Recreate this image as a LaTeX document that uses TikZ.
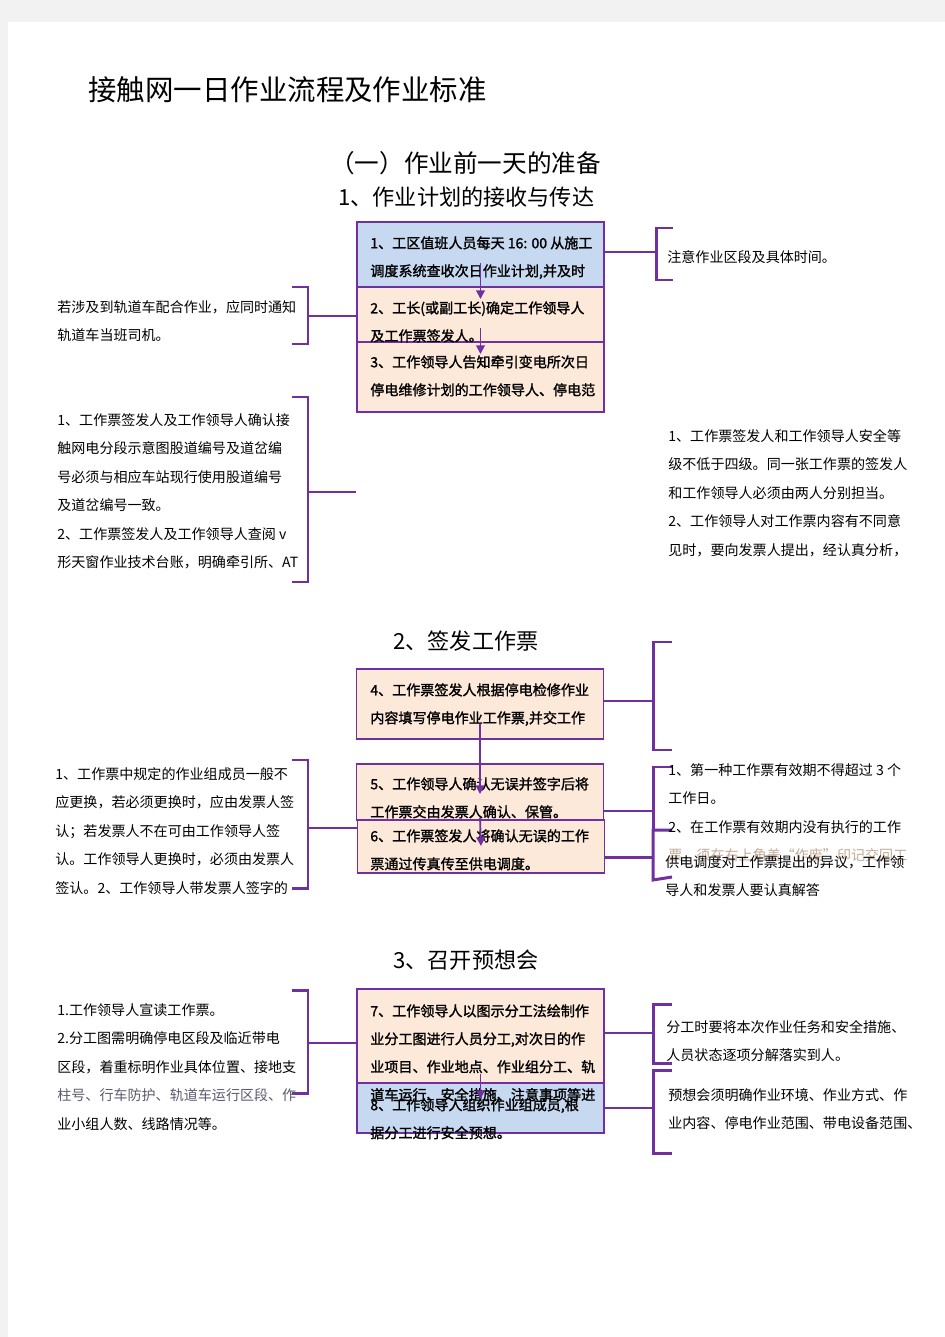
\documentclass[tikz,border=0pt]{standalone}
\usepackage{fontspec}
\setmainfont{Noto Sans CJK SC}
\newfontfamily\boxfont[AutoFakeBold=1.5]{Noto Sans CJK SC}
\usepackage{tikz}
\usetikzlibrary{arrows.meta, positioning, calc}
\usepackage{xcolor}
\definecolor{flowpurple}{RGB}{112, 48, 160}
\definecolor{stepblue}{RGB}{198, 217, 241}
\definecolor{steppeach}{RGB}{253, 233, 217}
\definecolor{pagegrey}{RGB}{242, 242, 242}
\definecolor{fadetext}{RGB}{196, 170, 150}
\definecolor{dimtext}{RGB}{90, 90, 110}
\tikzset{
    stepbox/.style={rectangle, draw=flowpurple, line width=1.1pt, minimum width=4.94cm, inner sep=0pt},
    bluestep/.style={stepbox, fill=stepblue},
    peachstep/.style={stepbox, fill=steppeach},
    steptext/.style={anchor=north west, inner sep=0pt, align=left, font=\boxfont\bfseries\fontsize{8pt}{15.9pt}\selectfont},
    note/.style={anchor=north west, inner sep=0pt, align=left, font=\fontsize{8pt}{16.2pt}\selectfont},
    heading/.style={anchor=west, inner sep=0pt, font=\fontsize{12.6pt}{14pt}\selectfont},
    link/.style={flowpurple, line width=1.2pt},
    bracket/.style={flowpurple, line width=1.7pt},
    arrow/.style={flowpurple, line width=1pt, -{Triangle[length=5pt, width=5pt]}}
}

\begin{document}
\begin{tikzpicture}[x=0.02cm, y=-0.02cm]
    % Page
    \fill[pagegrey] (0,0) rectangle (945,1337);
    \fill[white] (8,22) rectangle (945,1337);
    \useasboundingbox (0,0) rectangle (945,1337);

    % Titles
    \node[anchor=west, inner sep=0pt, font=\fontsize{16.2pt}{18pt}\selectfont] (title) at (88,90) {接触网一日作业流程及作业标准};
    \node[heading, font=\fontsize{14pt}{16pt}\selectfont] (part1) at (330,163) {（一）作业前一天的准备};
    \node[heading] (sec1) at (338,197) {1、作业计划的接收与传达};
    \node[heading] (sec2) at (393,641) {2、签发工作票};
    \node[heading] (sec3) at (393,960) {3、召开预想会};

    % Step boxes
    \node[bluestep, minimum height=1.30cm] (b1) at (480.5,254.5) {};
    \node[peachstep, minimum height=1.10cm] (b2) at (480.5,314.5) {};
    \node[peachstep, minimum height=1.40cm] (b3) at (480.5,377) {};
    \node[peachstep, minimum height=1.40cm] (b4) at (480,704) {};
    \node[peachstep, minimum height=1.12cm] (b5) at (480,792) {};
    \node[peachstep, minimum height=1.06cm] (b6) at (481,846.5) {};
    \node[bluestep, minimum height=1.00cm] (b8) at (480.5,1108) {};
    \node[peachstep, minimum height=1.88cm] (b7) at (480.5,1036) {};

    % Brackets, section 1
    \coordinate (r1) at (656,252);
    \draw[link] (b1.east |- r1) -- (r1);
    \draw[bracket] (673,228) -- (656,228) -- (656,280) -- (673,280);
    \coordinate (l1) at (308,316);
    \draw[link] (b2.west |- l1) -- (l1);
    \draw[bracket] (292,287) -- (308,287) -- (308,344) -- (292,344);
    \coordinate (l2) at (308,492);
    \draw[link] (l2) -- (l2 -| b3.west);
    \draw[bracket] (292,397) -- (308,397) -- (308,582) -- (292,582);

    % Brackets, section 2
    \coordinate (r2) at (653,701);
    \draw[link] (b4.east |- r2) -- (r2);
    \draw[bracket] (672,642) -- (653,642) -- (653,750) -- (672,750);
    \coordinate (r3) at (653,811);
    \draw[link] (b5.east |- r3) -- (r3);
    \draw[bracket] (672,830) -- (653,830) -- (653,880) -- (672,877);
    \coordinate (r4) at (653,857);
    \draw[bracket] (b6.east |- r4) -- (r4);
    \draw[bracket] (672,767) -- (653,767) -- (653,830);
    \coordinate (l3) at (308,828);
    \draw[link] (b6.west |- l3) -- (l3);
    \draw[bracket] (292,760) -- (308,760) -- (308,888) -- (292,888);

    % Brackets, section 3
    \coordinate (l4) at (308,1043);
    \draw[link] (b7.west |- l4) -- (l4);
    \draw[bracket] (292,990) -- (308,990) -- (308,1093) -- (292,1093);
    \coordinate (r5) at (653,1033);
    \draw[link] (b7.east |- r5) -- (r5);
    \draw[bracket] (672,1004) -- (653,1004) -- (653,1063) -- (672,1063);
    \coordinate (r6) at (653,1108);
    \draw[link] (b8.east |- r6) -- (r6);
    \draw[bracket] (672,1070) -- (653,1070) -- (653,1153) -- (672,1153);

    % Step texts
    \node[steptext] (t1) at (370,236) {1、工区值班人员每天 16: 00 从施工\\调度系统查收次日作业计划,并及时};
    \node[steptext] (t2) at (370,301) {2、工长(或副工长)确定工作领导人\\及工作票签发人。};
    \node[steptext] (t3) at (370,355) {3、工作领导人告知牵引变电所次日\\停电维修计划的工作领导人、停电范};
    \node[steptext] (t4) at (370,683) {4、工作票签发人根据停电检修作业\\内容填写停电作业工作票,并交工作};
    \node[steptext] (t5) at (370,777) {5、工作领导人确认无误并签字后将\\工作票交由发票人确认、保管。};
    \node[steptext] (t6) at (370,829) {6、工作票签发人将确认无误的工作\\票通过传真传至供电调度。};
    \node[steptext] (t7) at (370,1004) {7、工作领导人以图示分工法绘制作\\业分工图进行人员分工,对次日的作\\业项目、作业地点、作业组分工、轨\\道车运行、安全措施、注意事项等进};
    \node[steptext] (t8) at (370,1098) {8、工作领导人组织作业组成员,根\\据分工进行安全预想。};

    % Flow arrows
    \draw[arrow] ($(b1.south)+(0,-25)$) -- ($(b2.north)+(0,13)$);
    \draw[arrow] ($(b2.south)+(0,-15)$) -- ($(b3.north)+(0,13)$);
    \draw[arrow] ($(b4.south)+(0,-16)$) -- ($(b5.north)+(0,31)$);
    \draw[arrow] ($(b5.south)+(0,-3)$) -- ($(b6.north)+(0,27)$);
    \draw[arrow] ($(b7.south)+(0,-10)$) -- ($(b8.north)+(0,17)$);

    % Notes
    \node[note] (n1) at (667,250) {注意作业区段及具体时间。};
    \node[note] (n2) at (57,300) {若涉及到轨道车配合作业，应同时通知\\轨道车当班司机。};
    \node[note] (n3) at (57,413) {1、工作票签发人及工作领导人确认接\\触网电分段示意图股道编号及道岔编\\号必须与相应车站现行使用股道编号\\及道岔编号一致。\\2、工作票签发人及工作领导人查阅 v\\形天窗作业技术台账，明确牵引所、AT};
    \node[note] (n4) at (668,429) {1、工作票签发人和工作领导人安全等\\级不低于四级。同一张工作票的签发人\\和工作领导人必须由两人分别担当。\\2、工作领导人对工作票内容有不同意\\见时，要向发票人提出，经认真分析，};
    \node[note] (n5) at (55,767) {1、工作票中规定的作业组成员一般不\\应更换，若必须更换时，应由发票人签\\认；若发票人不在可由工作领导人签\\认。工作领导人更换时，必须由发票人\\签认。2、工作领导人带发票人签字的};
    \node[note] (n6) at (668,763) {1、第一种工作票有效期不得超过 3 个\\工作日。\\2、在工作票有效期内没有执行的工作\\\textcolor{fadetext}{票，须在右上角盖“作废”印记交回工}};
    \node[note] (n7) at (665,855) {供电调度对工作票提出的异议，工作领\\导人和发票人要认真解答};
    \node[note] (n8) at (57,1003) {1.工作领导人宣读工作票。\\2.分工图需明确停电区段及临近带电\\区段，着重标明作业具体位置、接地支\\\textcolor{dimtext}{柱号、行车防护、轨道车运行区段、作}\\业小组人数、线路情况等。};
    \node[note] (n9) at (666,1020) {分工时要将本次作业任务和安全措施、\\人员状态逐项分解落实到人。};
    \node[note] (n10) at (668,1088) {预想会须明确作业环境、作业方式、作\\业内容、停电作业范围、带电设备范围、};
\end{tikzpicture}
\end{document}
